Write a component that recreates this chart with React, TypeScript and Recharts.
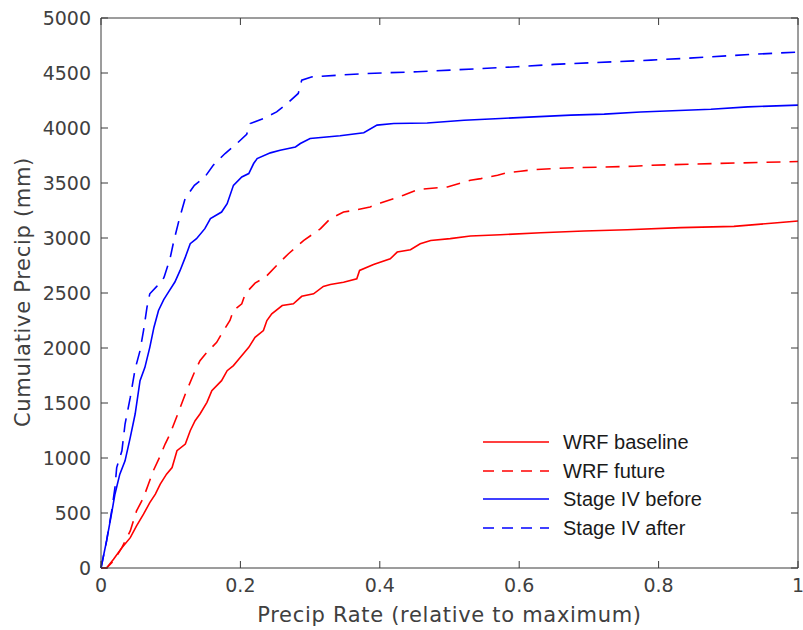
import React from "react";
import { LineChart, Line, XAxis, YAxis, Legend } from "recharts";

// cumulative precip curves: [rate, mm]
const wrfBaseline: [number, number][] = [
  [0, 0], [0.008, 0], [0.018, 79], [0.03, 185], [0.042, 276], [0.051, 383], [0.061, 489],
  [0.07, 595], [0.078, 671], [0.085, 762], [0.094, 853], [0.102, 913], [0.109, 1066],
  [0.121, 1127], [0.128, 1248], [0.135, 1339], [0.142, 1400], [0.152, 1506], [0.159, 1612],
  [0.173, 1703], [0.181, 1794], [0.19, 1840], [0.2, 1915], [0.212, 2006], [0.221, 2097],
  [0.233, 2158], [0.238, 2250], [0.245, 2311], [0.26, 2386], [0.276, 2402], [0.288, 2470],
  [0.305, 2493], [0.319, 2560], [0.329, 2577], [0.348, 2598], [0.367, 2629], [0.371, 2705],
  [0.391, 2759], [0.415, 2811], [0.425, 2872], [0.444, 2893], [0.458, 2948], [0.473, 2978],
  [0.501, 2994], [0.53, 3018], [0.573, 3030], [0.631, 3048], [0.693, 3063], [0.755, 3075],
  [0.832, 3094], [0.908, 3106], [0.966, 3136], [1.0, 3154],
];

const wrfFuture: [number, number][] = [
  [0, 0], [0.008, 0], [0.018, 64], [0.03, 185], [0.042, 337], [0.051, 519], [0.061, 640],
  [0.068, 762], [0.075, 883], [0.085, 1020], [0.092, 1127], [0.099, 1218], [0.111, 1414],
  [0.121, 1582], [0.133, 1764], [0.142, 1885], [0.152, 1961], [0.166, 2052], [0.173, 2128],
  [0.185, 2250], [0.19, 2341], [0.202, 2402], [0.207, 2493], [0.221, 2590], [0.236, 2644],
  [0.252, 2750], [0.269, 2857], [0.291, 2978], [0.315, 3085], [0.329, 3176], [0.348, 3236],
  [0.363, 3251], [0.386, 3282], [0.401, 3318], [0.42, 3358], [0.434, 3388], [0.454, 3440],
  [0.497, 3464], [0.53, 3525], [0.545, 3540], [0.569, 3570], [0.583, 3594], [0.602, 3607],
  [0.621, 3622], [0.669, 3637], [0.765, 3652], [0.789, 3661], [0.88, 3677], [1.0, 3695],
];

const stageIvBefore: [number, number][] = [
  [0, 0], [0.008, 246], [0.015, 489], [0.02, 671], [0.027, 853], [0.0345, 974], [0.042, 1187],
  [0.049, 1400], [0.056, 1703], [0.063, 1824], [0.07, 2006], [0.076, 2189], [0.0825, 2341],
  [0.09, 2440], [0.097, 2510], [0.106, 2600], [0.1135, 2705], [0.121, 2826], [0.128, 2948],
  [0.137, 2994], [0.149, 3085], [0.157, 3176], [0.173, 3236], [0.181, 3312], [0.19, 3479],
  [0.202, 3555], [0.212, 3586], [0.219, 3677], [0.224, 3722], [0.243, 3774], [0.257, 3798],
  [0.279, 3828], [0.286, 3859], [0.3, 3904], [0.343, 3929], [0.377, 3957], [0.396, 4026],
  [0.42, 4041], [0.468, 4045], [0.521, 4071], [0.573, 4086], [0.621, 4101], [0.674, 4117],
  [0.722, 4126], [0.774, 4146], [0.875, 4171], [0.928, 4192], [1.0, 4208],
];

const stageIvAfter: [number, number][] = [
  [0, 0], [0.008, 246], [0.0153, 519], [0.02, 731], [0.0225, 913], [0.03, 1066], [0.0345, 1309],
  [0.042, 1551], [0.049, 1810], [0.056, 1976], [0.061, 2158], [0.066, 2371], [0.07, 2493],
  [0.08, 2560], [0.087, 2600], [0.0905, 2644], [0.099, 2811], [0.104, 2960], [0.1125, 3176],
  [0.1207, 3358], [0.134, 3479], [0.149, 3555], [0.161, 3661], [0.178, 3768], [0.195, 3859],
  [0.209, 3943], [0.214, 4041], [0.233, 4086], [0.252, 4146], [0.267, 4223], [0.283, 4314],
  [0.288, 4435], [0.303, 4465], [0.343, 4481], [0.382, 4496], [0.454, 4511], [0.501, 4526],
  [0.597, 4557], [0.65, 4578], [0.789, 4617], [0.837, 4633], [0.932, 4669], [1.0, 4690],
];

const xTicks = [0, 0.2, 0.4, 0.6, 0.8, 1];
const yTicks = [0, 500, 1000, 1500, 2000, 2500, 3000, 3500, 4000, 4500, 5000];

// the last series is plotted on the mirrored top/right axes (same domains) so they get ticks
const series = [
  { name: "WRF baseline", points: wrfBaseline, color: "#ff0000", dashed: false, xId: 0, yId: 0 },
  { name: "WRF future", points: wrfFuture, color: "#ff0000", dashed: true, xId: 0, yId: 0 },
  { name: "Stage IV before", points: stageIvBefore, color: "#0000ff", dashed: false, xId: 0, yId: 0 },
  { name: "Stage IV after", points: stageIvAfter, color: "#0000ff", dashed: true, xId: "top", yId: "right" },
];

const toRows = (pts: [number, number][]) => pts.map(([x, y]) => ({ x, y }));

const AXIS = "#3a3a3a";
const TEXT = "#404040";
const FONT = "DejaVu Sans";
const TICK_LEN = 7;

// matlab-style inward ticks, drawn next to the labels
const BottomTick = ({ x, y, payload }: any) => (
  <g>
    <line x1={x} x2={x} y1={y - 11} y2={y - 11 - TICK_LEN} stroke={AXIS} />
    <text x={x} y={y} dy="0.71em" textAnchor="middle" fill={TEXT} fontSize={19} fontFamily={FONT}>
      {payload.value}
    </text>
  </g>
);

const LeftTick = ({ x, y, payload }: any) => (
  <g>
    <line x1={x + 10} x2={x + 10 + TICK_LEN} y1={y} y2={y} stroke={AXIS} />
    <text x={x} y={y} dy="0.36em" textAnchor="end" fill={TEXT} fontSize={19} fontFamily={FONT}>
      {payload.value}
    </text>
  </g>
);

const TopTick = ({ x, y }: any) => (
  <line x1={x} x2={x} y1={y} y2={y + TICK_LEN} stroke={AXIS} />
);

const RightTick = ({ x, y }: any) => (
  <line x1={x} x2={x - TICK_LEN} y1={y} y2={y} stroke={AXIS} />
);

const renderLegend = () => (
  <div style={{ fontFamily: "Liberation Sans", fontSize: 20, color: "#1a1a1a" }}>
    {series.map((s) => (
      <div key={s.name} style={{ display: "flex", alignItems: "center", height: 28.5 }}>
        <svg width={66} height={4} style={{ marginRight: 14 }}>
          <line
            x1={0}
            y1={2}
            x2={66}
            y2={2}
            stroke={s.color}
            strokeWidth={1.6}
            strokeDasharray={s.dashed ? "11 8" : undefined}
          />
        </svg>
        <span style={{ lineHeight: "28.5px" }}>{s.name}</span>
      </div>
    ))}
  </div>
);

export default function App() {
  return (
    <div style={{ position: "absolute", left: 0, top: 0, background: "#fff" }}>
      <LineChart width={803} height={630} margin={{ top: 17, right: 4, bottom: 0, left: 0 }}>
        <XAxis
          dataKey="x"
          type="number"
          domain={[0, 1]}
          ticks={xTicks}
          height={62}
          tickSize={0}
          tickMargin={11}
          tickLine={false}
          tick={<BottomTick />}
          stroke={AXIS}
          allowDuplicatedCategory={false}
          label={{
            value: "Precip Rate (relative to maximum)",
            position: "insideBottom",
            offset: 8,
            fill: TEXT,
            fontSize: 21,
            fontFamily: FONT,
            letterSpacing: 0.7,
          }}
        />
        <XAxis
          xAxisId="top"
          orientation="top"
          dataKey="x"
          type="number"
          domain={[0, 1]}
          ticks={xTicks}
          height={1}
          tickSize={0}
          tickMargin={0}
          tickLine={false}
          tick={<TopTick />}
          stroke={AXIS}
        />
        <YAxis
          type="number"
          domain={[0, 5000]}
          ticks={yTicks}
          width={101}
          tickSize={0}
          tickMargin={10}
          tickLine={false}
          tick={<LeftTick />}
          stroke={AXIS}
          label={{
            content: () => (
              <text
                x={30}
                y={292}
                transform="rotate(-90 30 292)"
                textAnchor="middle"
                fill={TEXT}
                fontSize={21}
                fontFamily={FONT}
                letterSpacing={0.7}
              >
                Cumulative Precip (mm)
              </text>
            ),
          }}
        />
        <YAxis
          yAxisId="right"
          orientation="right"
          type="number"
          domain={[0, 5000]}
          ticks={yTicks}
          width={1}
          tickSize={0}
          tickMargin={0}
          tickLine={false}
          tick={<RightTick />}
          stroke={AXIS}
        />
        {series.map((s) => (
          <Line
            key={s.name}
            data={toRows(s.points)}
            dataKey="y"
            xAxisId={s.xId}
            yAxisId={s.yId}
            name={s.name}
            type="linear"
            stroke={s.color}
            strokeWidth={1.6}
            strokeDasharray={s.dashed ? "14 9" : undefined}
            dot={false}
            activeDot={false}
            isAnimationActive={false}
          />
        ))}
        <Legend
          layout="vertical"
          align="center"
          verticalAlign="middle"
          content={renderLegend}
          wrapperStyle={{ left: 483, top: 428, width: 260 }}
        />
      </LineChart>
    </div>
  );
}
